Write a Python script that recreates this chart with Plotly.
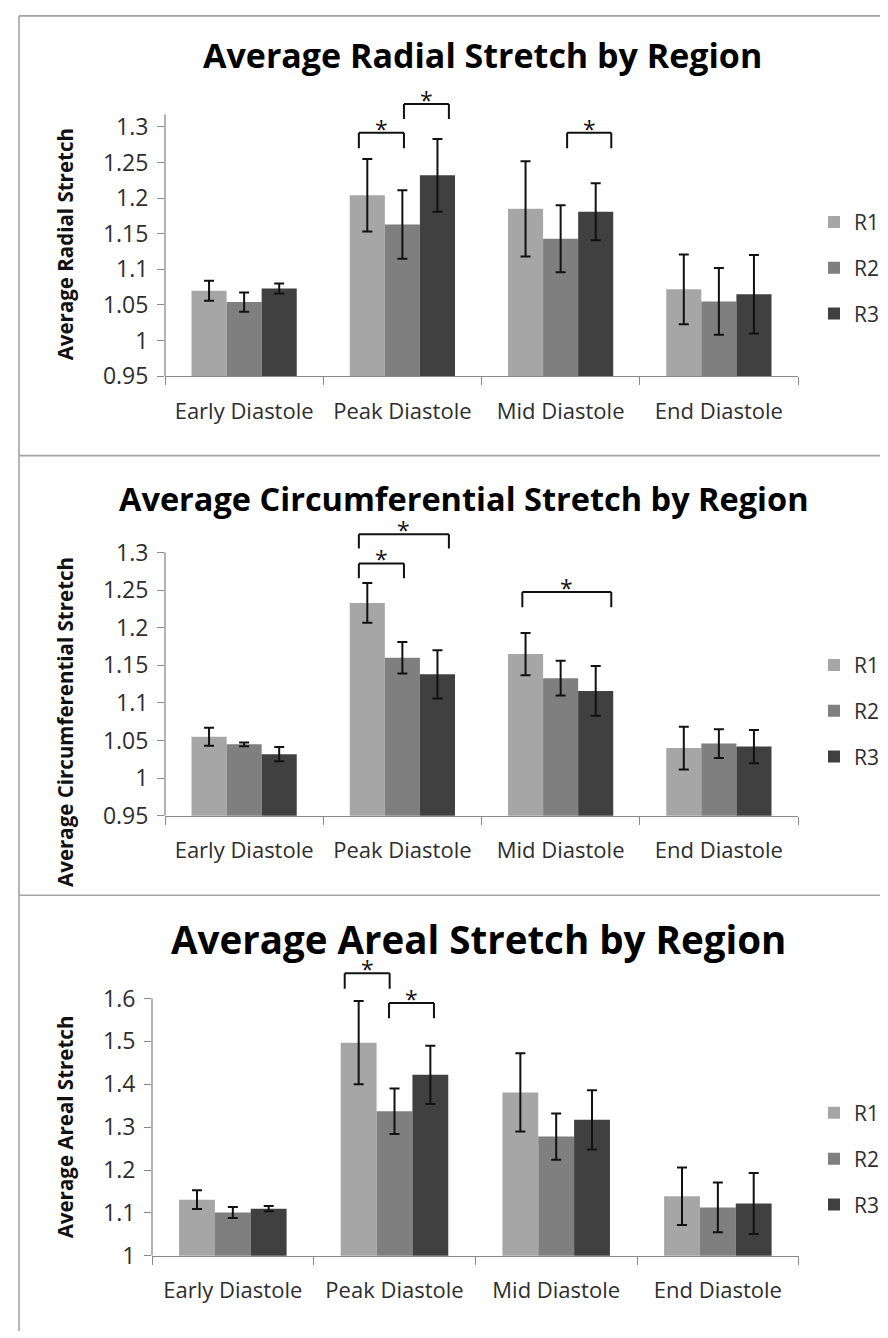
import plotly.graph_objects as go

W, H = 888, 1338

categories = ["Early Diastole", "Peak Diastole", "Mid Diastole", "End Diastole"]
series_names = ["R1", "R2", "R3"]
colors = ["#a6a6a6", "#7f7f7f", "#404040"]

radial_R1 = [1.070, 1.204, 1.185, 1.072]
radial_R2 = [1.054, 1.163, 1.143, 1.055]
radial_R3 = [1.073, 1.232, 1.181, 1.065]
radial_E1 = [0.014, 0.051, 0.067, 0.049]
radial_E2 = [0.0135, 0.048, 0.047, 0.047]
radial_E3 = [0.007, 0.051, 0.040, 0.055]

circ_R1 = [1.055, 1.233, 1.165, 1.040]
circ_R2 = [1.045, 1.160, 1.133, 1.046]
circ_R3 = [1.032, 1.138, 1.116, 1.042]
circ_E1 = [0.012, 0.0265, 0.028, 0.0285]
circ_E2 = [0.0026, 0.021, 0.023, 0.019]
circ_E3 = [0.0096, 0.032, 0.033, 0.022]

areal_R1 = [1.131, 1.497, 1.381, 1.139]
areal_R2 = [1.101, 1.337, 1.278, 1.113]
areal_R3 = [1.110, 1.422, 1.317, 1.122]
areal_E1 = [0.022, 0.097, 0.091, 0.067]
areal_E2 = [0.013, 0.053, 0.054, 0.058]
areal_E3 = [0.006, 0.068, 0.069, 0.071]

radial_ticks = [0.95, 1.0, 1.05, 1.1, 1.15, 1.2, 1.25, 1.3]
radial_ticktext = ["0.95", "1", "1.05", "1.1", "1.15", "1.2", "1.25", "1.3"]
circ_ticks = radial_ticks
circ_ticktext = radial_ticktext
areal_ticks = [1.0, 1.1, 1.2, 1.3, 1.4, 1.5, 1.6]
areal_ticktext = ["1", "1.1", "1.2", "1.3", "1.4", "1.5", "1.6"]

# significance brackets: (x_start, x_end, y_bottom, y_top) in category-index / data units
radial_brackets = [(0.725, 1.01, 1.270, 1.2917), (1.01, 1.294, 1.311, 1.3324), (2.041, 2.32, 1.270, 1.2917)]
circ_brackets = [(0.725, 1.294, 1.3053, 1.3242), (0.725, 1.01, 1.2658, 1.2855), (1.758, 2.32, 1.2273, 1.2474)]
areal_brackets = [(0.692, 0.97, 1.6224, 1.6585), (0.966, 1.244, 1.554, 1.5894)]

titles = ["Average Radial Stretch by Region",
          "Average Circumferential Stretch by Region",
          "Average Areal Stretch by Region"]
ytitles = ["Average Radial Stretch", "Average Circumferential Stretch", "Average Areal Stretch"]

FONT = "Open Sans"
AXC = "#898989"
TXT = "#2e2e2e"

panels = [
    dict(vals=[radial_R1, radial_R2, radial_R3], errs=[radial_E1, radial_E2, radial_E3],
         ticks=radial_ticks, ticktext=radial_ticktext, range=[0.95, 1.36], axtop=1.318,
         xdom=[157 / W, 790 / W], ydom=[1 - 372.3 / H, 1 - 77.1 / H], brackets=radial_brackets,
         title_xy=(474, 48), title_size=34, ytitle_xy=(57, 239),
         legend_y=196),
    dict(vals=[circ_R1, circ_R2, circ_R3], errs=[circ_E1, circ_E2, circ_E3],
         ticks=circ_ticks, ticktext=circ_ticktext, range=[0.95, 1.35], axtop=1.30,
         xdom=[157 / W, 790 / W], ydom=[1 - 817 / H, 1 - 512.6 / H], brackets=circ_brackets,
         title_xy=(456, 496), title_size=32.5, ytitle_xy=(57, 722),
         legend_y=644),
    dict(vals=[areal_R1, areal_R2, areal_R3], errs=[areal_E1, areal_E2, areal_E3],
         ticks=areal_ticks, ticktext=areal_ticktext, range=[1.0, 1.70], axtop=1.6,
         xdom=[144 / W, 790.7 / W], ydom=[1 - 1262 / H, 1 - 958.3 / H], brackets=areal_brackets,
         title_xy=(470, 942), title_size=38.5, ytitle_xy=(57, 1132),
         legend_y=1097),
]

fig = go.Figure()
shapes = []
annotations = []
layout = {}

for p_i, p in enumerate(panels):
    n = "" if p_i == 0 else str(p_i + 1)
    xa, ya = "x" + n, "y" + n
    leg = "legend" + n
    for s_i in range(3):
        fig.add_trace(go.Bar(
            x=categories, y=p["vals"][s_i], name=series_names[s_i],
            marker=dict(color=colors[s_i], line=dict(width=0)),
            error_y=dict(type="data", array=p["errs"][s_i], color="#111111", thickness=2, width=5),
            xaxis=xa, yaxis=ya, legend=leg, legendgroup=series_names[s_i] + n,
        ))
    layout["xaxis" + n] = dict(
        domain=p["xdom"], anchor=ya, type="category", range=[-0.5, 3.5],
        showline=True, linecolor=AXC, linewidth=1.3, ticks="outside", tickson="boundaries",
        ticklen=8, tickcolor=AXC, tickwidth=1.3, showgrid=False, zeroline=False,
        tickfont=dict(family=FONT, size=22, color=TXT), ticklabelstandoff=15, fixedrange=True,
    )
    layout["yaxis" + n] = dict(
        domain=p["ydom"], anchor=xa, range=p["range"], tickvals=p["ticks"], ticktext=p["ticktext"],
        showline=False, ticks="outside", ticklen=7, tickcolor=AXC, tickwidth=1.3,
        showgrid=False, zeroline=False, tickfont=dict(family=FONT, size=23, color=TXT),
        ticklabelstandoff=4, fixedrange=True,
    )
    # visible y axis line up to top tick area
    shapes.append(dict(type="line", xref=xa + " domain", yref=ya, x0=0, x1=0,
                       y0=p["range"][0], y1=p["axtop"], line=dict(color=AXC, width=1.3)))
    for (x0, x1, yb, yt) in p["brackets"]:
        for seg in [(x0, yb, x0, yt), (x0, yt, x1, yt), (x1, yt, x1, yb)]:
            shapes.append(dict(type="line", xref=xa, yref=ya, x0=seg[0], y0=seg[1], x1=seg[2], y1=seg[3],
                               line=dict(color="#111111", width=2)))
        annotations.append(dict(xref=xa, yref=ya, x=(x0 + x1) / 2, y=yt, text="*", showarrow=False,
                                yanchor="middle", yshift=4, font=dict(family=FONT, size=23, color="#111111")))
    tx, ty = p["title_xy"]
    annotations.append(dict(xref="paper", yref="paper", x=tx / W, y=1 - ty / H, text="<b>" + titles[p_i] + "</b>",
                            showarrow=False, xanchor="center", yanchor="middle",
                            font=dict(family=FONT, size=p["title_size"], color="#000000")))
    yx, yy = p["ytitle_xy"]
    annotations.append(dict(xref="paper", yref="paper", x=yx / W, y=1 - yy / H, text="<b>" + ytitles[p_i] + "</b>",
                            showarrow=False, xanchor="center", yanchor="middle", textangle=-90,
                            font=dict(family=FONT, size=20.5, color="#111111")))
    layout[leg] = dict(x=806 / W, y=1 - p["legend_y"] / H, xanchor="left", yanchor="top",
                       font=dict(family=FONT, size=21, color=TXT), bgcolor="rgba(0,0,0,0)",
                       tracegroupgap=15.5, itemwidth=30, traceorder="grouped")

# panel frames
FR = "#a3a3a3"
shapes.append(dict(type="line", xref="paper", yref="paper", x0=11 / W, x1=11 / W, y0=1 - 8 / H, y1=0,
                   line=dict(color=FR, width=1.6)))
for yy in [8, 452.7, 897.3]:
    shapes.append(dict(type="line", xref="paper", yref="paper", x0=11 / W, x1=1, y0=1 - yy / H, y1=1 - yy / H,
                       line=dict(color=FR, width=1.6)))

fig.update_layout(
    width=W, height=H, margin=dict(l=0, r=0, t=0, b=0),
    paper_bgcolor="white", plot_bgcolor="white",
    barmode="group", bargap=0.335, bargroupgap=0,
    showlegend=True, shapes=shapes, annotations=annotations,
    **layout,
)

fig.write_html("out.html")
